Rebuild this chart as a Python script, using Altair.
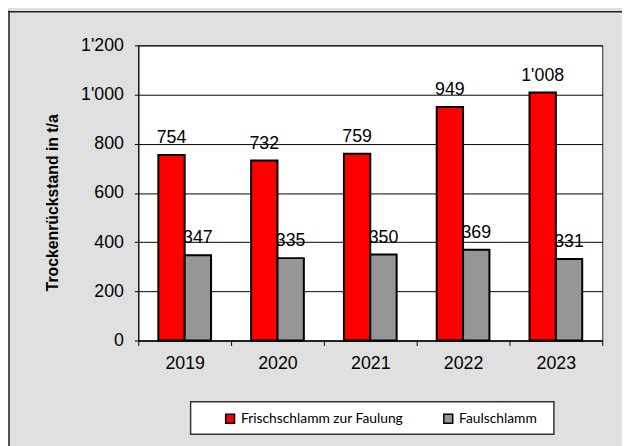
import altair as alt
import pandas as pd

years = ["2019", "2020", "2021", "2022", "2023"]
series = ["Frischschlamm zur Faulung", "Faulschlamm"]
frisch = [754, 732, 759, 949, 1008]
faul = [347, 335, 350, 369, 331]
colors = ["#ff0000", "#969696"]

rows = []
for i, y in enumerate(years):
    rows.append({"Jahr": y, "Serie": series[0], "Wert": frisch[i]})
    rows.append({"Jahr": y, "Serie": series[1], "Wert": faul[i]})
df = pd.DataFrame(rows)

fmt = "replace(format(datum.Wert, ','), ',', \"'\")"
axfmt = "replace(format(datum.value, ','), ',', \"'\")"

x = alt.X("Jahr:N", sort=years, title=None,
          scale=alt.Scale(paddingInner=0, paddingOuter=0),
          axis=alt.Axis(labelAngle=0, labelFont="Liberation Sans", labelFontSize=18,
                        labelColor="#000", labelPadding=9, tickBand="extent",
                        tickSize=5, tickColor="#000", domainColor="#000",
                        grid=False))
xo = alt.XOffset("Serie:N", sort=series,
                 scale=alt.Scale(paddingOuter=0.76, paddingInner=0))
y = alt.Y("Wert:Q", title="Trockenrückstand in t/a",
          scale=alt.Scale(domain=[0, 1200], nice=False),
          axis=alt.Axis(values=[0, 200, 400, 600, 800, 1000, 1200], labelExpr=axfmt,
                        labelFont="Liberation Sans", labelFontSize=18, labelColor="#000",
                        labelPadding=11, tickSize=4, tickColor="#000",
                        domainColor="#000", gridColor="#000", gridOpacity=1,
                        titleFont="Liberation Sans", titleFontSize=16,
                        titleFontWeight="bold", titleColor="#000",
                        titleX=-82, titleY=159, titleBaseline="alphabetic",
                        titleAngle=-90, titleAlign="center"))

color = alt.Color("Serie:N", sort=series,
                  scale=alt.Scale(domain=series, range=colors),
                  legend=alt.Legend(
                      orient="none", legendX=76, legendY=361, direction="horizontal",
                      title=None, padding=10,
                      labelFont="Lato", labelFontSize=14, labelColor="#000",
                      labelOffset=4, columnPadding=37, labelLimit=400,
                      symbolType="square", symbolSize=81, symbolStrokeColor="#000",
                      symbolStrokeWidth=1.5, symbolOpacity=1))

base = alt.Chart(df)

labels = base.transform_calculate(lbl=fmt).mark_text(
    baseline="alphabetic", dy=-12, font="Liberation Sans", fontSize=18, color="#000"
).encode(x=x, xOffset=xo, y=y, text="lbl:N")

bars = base.mark_bar().encode(
    x=x, xOffset=xo, y=y, color=color,
    stroke=alt.value("#000000"), strokeWidth=alt.value(2), opacity=alt.value(1))

frame = alt.Chart(alt.Data(values=[{}]))
top_border = frame.mark_rule(color="#222", strokeWidth=1.5).encode(
    x=alt.value(-132), x2=alt.value(500), y=alt.value(-34))
left_border = frame.mark_rule(color="#222", strokeWidth=1.5).encode(
    x=alt.value(-131), y=alt.value(-35), y2=alt.value(420))
legend_box = frame.mark_rect(fill="#ffffff", stroke="#333333", strokeWidth=1.5).encode(
    x=alt.value(53), x2=alt.value(421), y=alt.value(361), y2=alt.value(394))

chart = alt.layer(labels, bars, top_border, left_border, legend_box).properties(
    width=470, height=299,
    background="#e0e0e0",
    autosize=alt.AutoSizeParams(type="none"),
    padding={"left": 132, "top": 35, "right": 20, "bottom": 104},
).configure_view(fill="#ffffff", stroke="#222222", strokeWidth=1)

chart.save("out.html", embed_options={"renderer": "svg", "actions": False})
